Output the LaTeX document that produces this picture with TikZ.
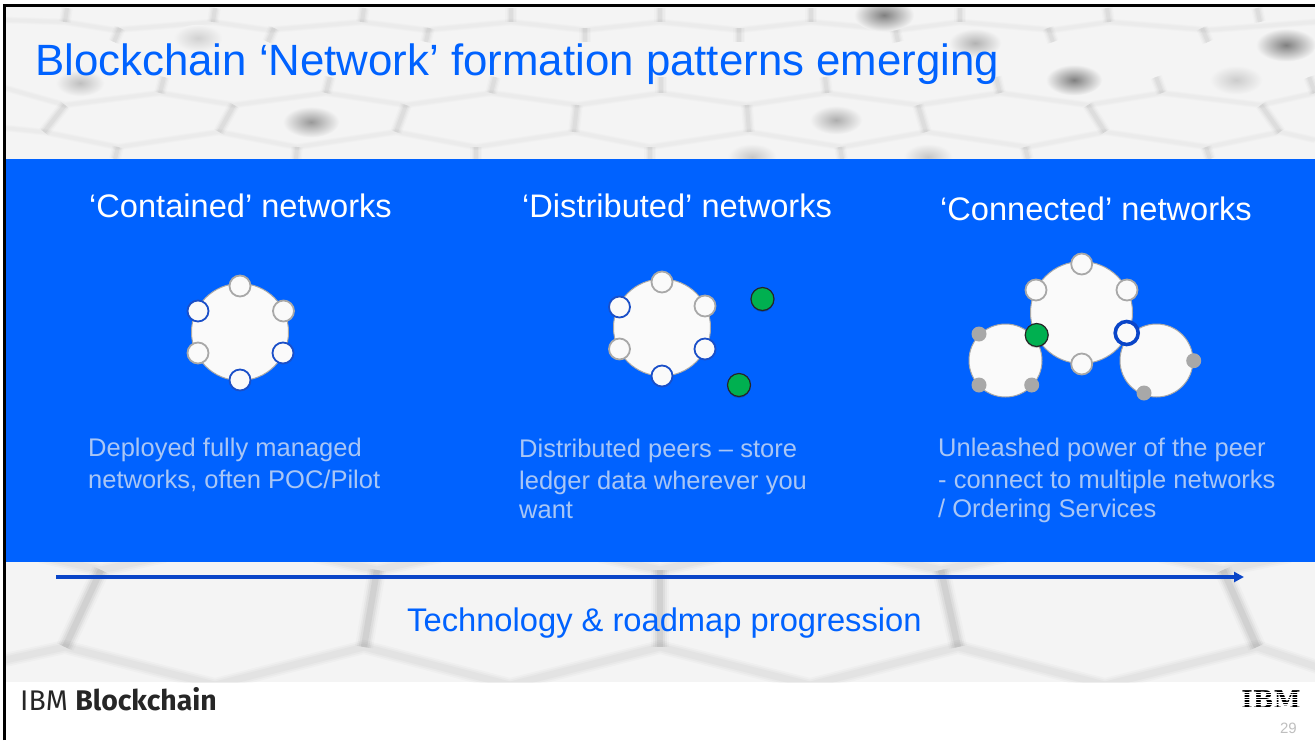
\documentclass[tikz,border=0pt]{standalone}
\usepackage{fontspec}
\setmainfont{Liberation Sans}
\newfontfamily\footfont{Fira Sans}
\newfontfamily\logofont{DejaVu Serif}
\usetikzlibrary{arrows.meta}

\definecolor{ibmblue}{HTML}{0062FF}
\definecolor{ringblue}{HTML}{1A4FC8}
\definecolor{arrowblue}{HTML}{0A45C8}
\definecolor{lightgrey}{HTML}{A8A8A8}
\definecolor{hubwhite}{HTML}{FAFAFA}
\definecolor{peergreen}{HTML}{00B050}
\definecolor{desctext}{HTML}{A9C6F5}

\tikzset{
    softline/.style={draw=black, opacity=.05, line width=.45*#1,
        preaction={draw=black, opacity=.04, line width=.75*#1},
        preaction={draw=black, opacity=.03, line width=#1},
        preaction={draw=black, opacity=.02, line width=1.3*#1}},
    softstem/.style={draw=black, opacity=.03, line width=.45*#1,
        preaction={draw=black, opacity=.025, line width=.75*#1},
        preaction={draw=black, opacity=.02, line width=#1},
        preaction={draw=black, opacity=.015, line width=1.3*#1}},
    softzig/.style={draw=black, opacity=.012, line width=.5*#1,
        preaction={draw=black, opacity=.012, line width=.75*#1},
        preaction={draw=black, opacity=.012, line width=#1}},
    softband/.style={draw=black, opacity=.025, line width=.5*#1,
        preaction={draw=black, opacity=.025, line width=.75*#1},
        preaction={draw=black, opacity=.02, line width=#1}},
    hub/.style={circle, draw=lightgrey, fill=hubwhite, line width=1pt, inner sep=0, minimum size=#1},
    peer/.style={circle, draw=lightgrey, fill=hubwhite, line width=1.8pt, inner sep=0, minimum size=21},
    bluepeer/.style={peer, draw=ringblue},
    greenpeer/.style={circle, draw=black!85, fill=peergreen, line width=1.2pt, inner sep=0, minimum size=23,
        preaction={draw=none, fill=black, opacity=.18, transform canvas={yshift=-1.5pt}}},
    ringpeer/.style={circle, draw=arrowblue, fill=hubwhite, line width=3.6pt, inner sep=0, minimum size=23},
    dot/.style={circle, fill=lightgrey, inner sep=0, minimum size=15},
    heading/.style={anchor=base west, inner sep=0, text=white, font=\fontsize{32.6}{36}\selectfont},
    desc/.style={anchor=north west, inner sep=0, align=left, text=desctext, font=\fontsize{25.5}{32}\selectfont}
}

\begin{document}
\begin{tikzpicture}[x=1pt, y=-1pt]
    \useasboundingbox (0,0) rectangle (1315,740);
    % background
    \fill[white] (0,0) rectangle (1315,740);
    \begin{scope}
        \clip (5,5) rectangle (1315,682);
        \fill[black!4.5] (5,5) rectangle (1315,682);
        \foreach \xa/\ya/\xb/\yb in {67/8/65/22, 215/8/213/22, 364/8/362/22, 511/8/511/22, 660/8/660/22, 811/8/811/22, 960/8/960/22, 1107/8/1109/22, 1257/8/1260/22,
            120/28/114/42, 274/28/268/42, 429/28/426/42, 585/28/585/42, 739/28/739/42, 895/28/898/42, 1048/28/1053/42, 1202/28/1208/42,
            164/77/160/93, 330/77/326/93, 495/77/491/93, 661/77/661/93, 825/77/827/93, 996/77/1000/93, 1156/77/1162/93, 1309/77/1315/93,
            65/105/44/132, 234/105/219/132, 406/105/396/132, 577/105/574/132, 747/105/749/132, 918/105/926/132, 1088/105/1105/132, 1261/105/1280/132,
            118/147/115/159, 297/147/296/159, 476/147/476/159, 650/147/650/159, 840/147/842/159, 1025/147/1028/159, 1206/147/1210/159}
            \draw[softstem=9] (\xa,\ya) -- (\xb,\yb);
        \path[softzig=7] (5,88) -- (65,105) -- (160,93) -- (234,105) -- (326,93) -- (406,105) -- (491,93) -- (577,105) -- (661,93) -- (747,105) -- (827,93) -- (918,105) -- (1000,93) -- (1088,105) -- (1162,93) -- (1261,105) -- (1315,93);
        \path[softzig=7] (5,128) -- (44,132) -- (118,147) -- (219,132) -- (297,147) -- (396,132) -- (476,147) -- (574,132) -- (650,147) -- (749,132) -- (842,147) -- (926,132) -- (1028,147) -- (1105,132) -- (1208,147) -- (1280,132) -- (1315,140);
        \path[softzig=7] (5,20) -- (65,22) -- (114,30) -- (213,22) -- (268,30) -- (362,22) -- (426,30) -- (511,22) -- (585,30) -- (660,22) -- (739,30) -- (811,22) -- (898,30) -- (960,22) -- (1053,30) -- (1109,22) -- (1208,30) -- (1315,22);
        \foreach \bx/\by/\br/\bc in {311/122/28/40, 80/83/24/25, 198/38/24/18, 884/15/30/50, 975/43/26/30, 1074/80/28/50, 1286/45/30/50, 1236/80/26/20, 836/120/26/32, 928/157/24/22, 752/157/24/22}
            \shade[inner color=black!\bc, outer color=black!4.5] (\bx,\by) ellipse (\br pt and 0.55*\br pt);
        % lower band
        \path[softband=14] (5,660) -- (65,647) -- (215,685) -- (364,647) -- (510,685) -- (660,647) -- (810,685) -- (958,647) -- (1105,685) -- (1257,647) -- (1320,668);
        \foreach \xa/\xb/\xc in {40/101/165, 315/377/440, 600/660/720, 880/941/1005, 1160/1223/1290}
            \path[softband=14] (\xa,556) -- (\xb,570) -- (\xc,556);
        \foreach \xa/\xb in {101/65, 377/364, 660/660, 941/958, 1223/1257}
            \draw[softline=14] (\xa,570) -- (\xb,647);
    \end{scope}
    \fill[ibmblue] (5,159) rectangle (1315,562);
    \draw[black, line width=2.6pt] (4.5,740) -- (4.5,5.5) -- (1315,5.5);

    \node[anchor=base west, inner sep=0, text=ibmblue, font=\fontsize{43.8}{50}\selectfont] (title) at (35,75) {Blockchain ‘Network’ formation patterns emerging};

    % contained
    \node[heading] (containedtitle) at (89,217) {‘Contained’ networks};
    \node[hub=97] (h1) at (240,332) {};
    \node[peer] (p1) at (240,286) {};
    \node[peer] (p2) at (283.5,311) {};
    \node[bluepeer] (p3) at (283,353) {};
    \node[bluepeer] (p4) at (240,380) {};
    \node[peer] (p5) at (198,353) {};
    \node[bluepeer] (p6) at (198,311) {};
    \node[desc] (containedtext) at (88,438) {Deployed fully managed\\[0pt]networks, often POC/Pilot};

    % distributed
    \node[heading] (distributedtitle) at (522,217) {‘Distributed’ networks};
    \node[hub=97] (h2) at (662,327.5) {};
    \node[peer] (q1) at (662,282) {};
    \node[peer] (q2) at (705,306) {};
    \node[bluepeer] (q3) at (705,349) {};
    \node[bluepeer] (q4) at (662,376) {};
    \node[peer] (q5) at (619.5,349) {};
    \node[bluepeer] (q6) at (619.5,307) {};
    \node[greenpeer] (g1) at (762.5,299) {};
    \node[greenpeer] (g2) at (739,385) {};
    \node[desc] (distributedtext) at (519,439) {Distributed peers – store\\[0pt]ledger data wherever you\\[-3.5pt]want};

    % connected
    \node[heading] (connectedtitle) at (940,220) {‘Connected’ networks};
    \node[hub=73] (h3) at (1005.5,360.5) {};
    \node[hub=73] (h4) at (1156.5,360.5) {};
    \node[hub=102] (h5) at (1081.5,312.5) {};
    \node[dot] (d1) at (979,334) {};
    \node[dot] (d2) at (979,385) {};
    \node[dot] (d3) at (1031.7,385) {};
    \node[dot] (d4) at (1193.7,360.7) {};
    \node[dot] (d5) at (1144,393) {};
    \node[peer] (r1) at (1081.7,264) {};
    \node[peer] (r2) at (1036,290) {};
    \node[peer] (r3) at (1127,290) {};
    \node[peer] (r4) at (1081.7,364) {};
    \node[greenpeer] (g3) at (1036.7,335) {};
    \node[ringpeer] (r5) at (1126.7,333) {};
    \node[desc] (connectedtext) at (938,438) {Unleashed power of the peer\\[0pt]- connect to multiple networks\\[-3pt]/ Ordering Services};

    % progression
    \coordinate (arrowstart) at (56,577);
    \coordinate (arrowend) at (1244,577);
    \draw[arrowblue, line width=3.2pt, -{Triangle[length=10pt, width=10pt]}] (arrowstart) -- (arrowend);
    \node[anchor=base west, inner sep=0, text=ibmblue, font=\fontsize{32.7}{38}\selectfont] (progress) at (407,631) {Technology \& roadmap progression};

    % footer
    \node[anchor=base west, inner sep=0, text=black!85, font=\footfont\fontsize{28.4}{32}\selectfont] (brand) at (20,710) {IBM \textbf{Blockchain}};
    \node[anchor=center, inner sep=0, text=black, font=\logofont\bfseries\fontsize{24.5}{30}\selectfont] (logo) at (1271,699.5) {IBM};
    \foreach \y in {691.5,694,696.5,699,701.5,704,706.5}
        \fill[white] (1240,\y) rectangle (1302,\y+0.8);
    \node[anchor=base east, inner sep=0, text=black!25, font=\fontsize{15}{18}\selectfont] (pagenum) at (1297,733) {29};
\end{tikzpicture}
\end{document}
